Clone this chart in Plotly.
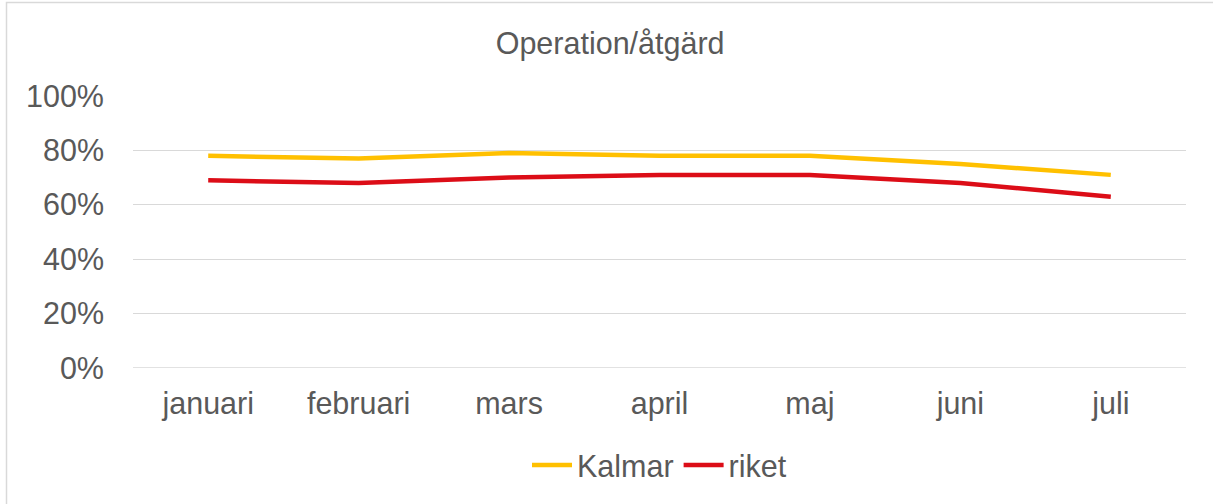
import plotly.graph_objects as go

months = ["januari", "februari", "mars", "april", "maj", "juni", "juli"]
kalmar = [0.78, 0.77, 0.79, 0.78, 0.78, 0.75, 0.71]
riket = [0.69, 0.68, 0.70, 0.71, 0.71, 0.68, 0.63]
y_ticks = [0, 0.2, 0.4, 0.6, 0.8, 1.0]

fig = go.Figure()
fig.add_trace(go.Scatter(x=months, y=kalmar, name="Kalmar", mode="lines",
                         line=dict(color="#FFC000", width=4.5)))
fig.add_trace(go.Scatter(x=months, y=riket, name="riket", mode="lines",
                         line=dict(color="#DC0D17", width=4.5)))

font = "Liberation Sans, Arial, sans-serif"
fs = 30.5
fig.update_layout(
    width=1213, height=504,
    margin=dict(l=133, r=27, t=96, b=136),
    paper_bgcolor="white", plot_bgcolor="white",
    font=dict(family=font, size=fs, color="#595959"),
    title=dict(text="Operation/åtgärd", x=0.503, xanchor="center", y=0.915, yanchor="middle",
               font=dict(family=font, size=fs, color="#595959")),
    showlegend=True,
    legend=dict(orientation="h", x=0.5, xanchor="center", y=-0.357, yanchor="middle",
                font=dict(family=font, size=fs, color="#595959"), itemwidth=40,
                tracegroupgap=0),
    xaxis=dict(type="category", range=[-0.5, 6.5], showgrid=False, zeroline=False,
               showline=False, ticks="", ticklabelstandoff=14,
               tickfont=dict(family=font, size=fs, color="#595959")),
    yaxis=dict(range=[0, 1.0], tickvals=y_ticks, tickformat=".0%", showgrid=True,
               gridcolor="#D9D9D9", gridwidth=1.3, zeroline=False, showline=False,
               ticks="", ticklabelstandoff=28,
               tickfont=dict(family=font, size=fs, color="#595959")),
)
fig.add_shape(type="line", xref="paper", yref="y", x0=0, x1=1, y0=0, y1=0,
              line=dict(color="#D9D9D9", width=1.3), layer="below")
fig.add_shape(type="rect", xref="paper", yref="paper",
              x0=(6.5 - 133) / 1053, x1=(1216 - 133) / 1053,
              y0=(368 - 507) / 272, y1=(368 - 2.5) / 272,
              line=dict(color="#D9D9D9", width=1.5), fillcolor="rgba(0,0,0,0)", layer="below")

fig.write_html("out.html", config={"displayModeBar": False},
               post_script="document.body.style.margin='0';")
